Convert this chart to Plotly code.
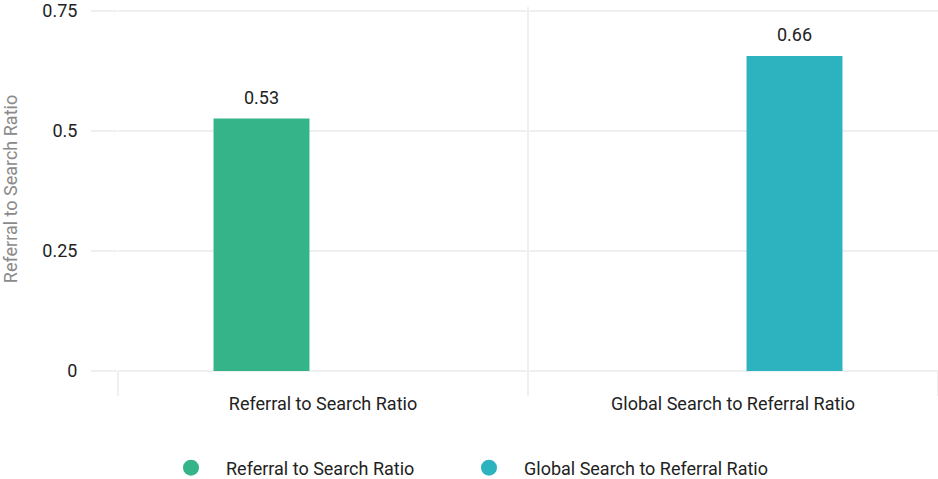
import plotly.graph_objects as go

# Ratio data
categories = ["Referral to Search Ratio", "Global Search to Referral Ratio"]
series_names = ["Referral to Search Ratio", "Global Search to Referral Ratio"]
series_values = [0.526, 0.656]
series_colors = ["#36B489", "#2DB3C0"]
y_ticks = [0, 0.25, 0.5, 0.75]
y_tick_labels = ["0", "0.25", "0.5", "0.75"]

FONT = "Roboto, Arial, sans-serif"
FS = 18
GRID = "#efefef"
BARGAP = 0.4
BARGROUPGAP = 0.22

# one legend box per series so each entry can be placed on its own
legend_ids = ["legend", "legend2"]
legend_x = [0.1663, 0.484]

fig = go.Figure()

# each series has a value only in its own category, but keeps its slot in every group
for i, (name, val, col) in enumerate(zip(series_names, series_values, series_colors)):
    yvals = [val if j == i else None for j in range(len(categories))]
    fig.add_trace(go.Bar(
        x=categories,
        y=yvals,
        name=name,
        marker=dict(color=col, line=dict(width=0)),
        showlegend=False,
        hoverinfo="skip",
    ))
    # circular legend markers
    fig.add_trace(go.Scatter(
        x=[None], y=[None], mode="markers", name=name,
        marker=dict(color=col, size=16, symbol="circle"),
        showlegend=True, legend=legend_ids[i],
    ))

# value labels above each bar, placed at the bar's slot centre
n_series = len(series_values)
slot = (1 - BARGAP) / n_series
for i, val in enumerate(series_values):
    xpos = i + (i - (n_series - 1) / 2) * slot
    fig.add_annotation(
        x=xpos, y=val, text=f"{val:.2f}", showarrow=False,
        yanchor="middle", yshift=21,
        font=dict(family=FONT, size=FS, color="#222222"),
    )

legend_style = dict(
    orientation="h", xref="container", xanchor="left",
    yref="container", y=0.023, yanchor="middle",
    itemwidth=60, font=dict(size=FS, color="#222222"),
    itemclick=False, itemdoubleclick=False,
)

fig.update_layout(
    width=938, height=479,
    margin=dict(l=118, r=0, t=2, b=108),
    paper_bgcolor="white", plot_bgcolor="white",
    barmode="group", bargap=BARGAP, bargroupgap=BARGROUPGAP,
    font=dict(family=FONT, size=FS, color="#222222"),
    legend=dict(x=legend_x[0], **legend_style),
    legend2=dict(x=legend_x[1], **legend_style),
    xaxis=dict(
        type="category", categoryorder="array", categoryarray=categories,
        range=[-0.5, 1.5], tickson="boundaries",
        showgrid=True, gridcolor=GRID, gridwidth=2,
        ticks="outside", ticklen=24, tickwidth=2, tickcolor=GRID,
        showline=False, zeroline=False, ticklabelstandoff=20,
        tickfont=dict(size=FS, color="#222222"), fixedrange=True,
    ),
    yaxis=dict(
        range=[0, 0.758], tickvals=y_ticks, ticktext=y_tick_labels,
        showgrid=True, gridcolor=GRID, gridwidth=2,
        zeroline=True, zerolinecolor=GRID, zerolinewidth=2,
        ticks="outside", ticklen=26, tickwidth=2, tickcolor=GRID,
        showline=False, ticklabelstandoff=10, ticklabelshift=0,
        ticklabeloverflow="allow",
        tickfont=dict(size=FS, color="#222222"),
        title=dict(text="Referral to Search Ratio",
                   font=dict(size=FS, color="#8a8a8a"), standoff=19),
        fixedrange=True,
    ),
)

fig.write_html("out.html")
